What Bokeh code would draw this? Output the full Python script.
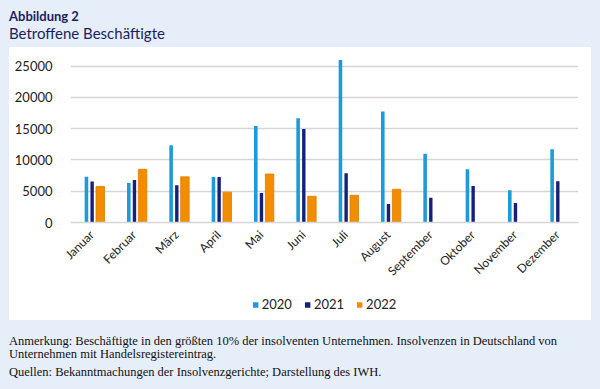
from math import pi
from bokeh.plotting import figure
from bokeh.layouts import column, row
from bokeh.models import (ColumnDataSource, FixedTicker, Legend, LegendItem, Div, Spacer,
                          GlobalInlineStyleSheet, FactorRange, Range1d)
from bokeh.transform import dodge
from bokeh.embed import file_html
from bokeh.resources import INLINE

months = ["Januar", "Februar", "März", "April", "Mai", "Juni", "Juli",
          "August", "September", "Oktober", "November", "Dezember"]
y2020 = [7300, 6300, 12350, 7250, 15400, 16650, 25950, 17750, 11000, 8500, 5150, 11700]
y2021 = [6550, 6800, 5950, 7250, 4700, 14950, 7850, 2950, 3950, 5850, 3100, 6600]
y2022 = [5750, 8500, 7300, 4850, 7750, 4200, 4350, 5300, 0, 0, 0, 0]
y_ticks = [0, 5000, 10000, 15000, 20000, 25000]
series = ["2020", "2021", "2022"]

title_1 = "Abbildung 2"
title_2 = "Betroffene Beschäftigte"
note_1 = ("Anmerkung: Beschäftigte in den größten 10% der insolventen Unternehmen. "
          "Insolvenzen in Deutschland von<br>Unternehmen mit Handelsregistereintrag.")
note_2 = "Quellen: Bekanntmachungen der Insolvenzgerichte; Darstellung des IWH."

BG = "#e6eefa"
NAVY = "#1b1f5c"
C2020 = "#1f9ad8"
C2021 = "#15207a"
C2022 = "#f28c00"
COLORS = [C2020, C2021, C2022]
AXFONT = "Lato"

src = ColumnDataSource(dict(month=months, y2020=y2020, y2021=y2021, y2022=y2022))

p = figure(width=582, height=241, x_range=FactorRange(*months),
           y_range=Range1d(0, 26200), output_backend="svg", toolbar_location=None,
           min_border_left=61, min_border_right=13, min_border_top=11, min_border_bottom=66,
           border_fill_color="white", background_fill_color="white",
           outline_line_color=None, margin=0)

p.vbar(x=dodge("month", -0.123, range=p.x_range), top="y2020", width=0.085,
       source=src, fill_color=C2020, line_color=None)
p.vbar(x=dodge("month", 0.011, range=p.x_range), top="y2021", width=0.08,
       source=src, fill_color=C2021, line_color=None)
p.vbar(x=dodge("month", 0.203, range=p.x_range), top="y2022", width=0.2,
       source=src, fill_color=C2022, line_color="#e07d00", line_width=0.8)

p.xgrid.grid_line_color = None
p.ygrid.grid_line_color = "#d6d6d6"
p.ygrid.grid_line_width = 1.5
p.ygrid.ticker = FixedTicker(ticks=y_ticks)

p.yaxis.ticker = FixedTicker(ticks=y_ticks)
p.yaxis.axis_line_color = None
p.yaxis.major_tick_line_color = None
p.yaxis.minor_tick_line_color = None
p.yaxis.major_label_standoff = 12
p.yaxis.major_label_text_font = AXFONT
p.yaxis.major_label_text_font_size = "13px"
p.yaxis.major_label_text_color = "#222222"
p.yaxis.major_label_overrides = {t: str(t) for t in y_ticks}

p.xaxis.axis_line_color = "#d6d6d6"
p.xaxis.axis_line_width = 1.5
p.xaxis.major_tick_line_color = None
p.xaxis.minor_tick_line_color = None
p.xaxis.major_label_orientation = pi / 4
p.xaxis.major_label_standoff = 4
p.xaxis.major_label_text_font = AXFONT
p.xaxis.major_label_text_font_size = "12px"
p.xaxis.major_label_text_color = "#222222"

# legend strip (its own small figure so that the legend is not clipped);
# the swatch renderers hold one point placed outside the visible range
lg = figure(width=582, height=32, output_backend="svg", toolbar_location=None,
            x_axis_type=None, y_axis_type=None, min_border=0, margin=0,
            border_fill_color="white", background_fill_color="white",
            outline_line_color=None, x_range=Range1d(0, 1), y_range=Range1d(0, 1))
items = []
for name, c in zip(series, COLORS):
    rr = lg.vbar(x=[-5], top=[-5], bottom=[-6], width=0.1, fill_color=c, line_color=None)
    items.append(LegendItem(label=name, renderers=[rr]))
lg.xgrid.visible = False
lg.ygrid.visible = False
legend = Legend(items=items, orientation="horizontal", location="center",
                border_line_color=None, background_fill_alpha=0,
                glyph_width=7, glyph_height=7, label_standoff=3, spacing=12,
                label_text_font=AXFONT, label_text_font_size="13px",
                label_text_color="#222222", margin=0, padding=2)
lg.add_layout(legend)

head = Div(width=600, height=47, margin=0,
           text=('<div style="font-family:Lato;color:%s;padding:9px 0 0 9px;">'
                 '<div style="font-weight:bold;font-size:13px;line-height:15px;">%s</div>'
                 '<div style="font-size:15px;line-height:18px;">%s</div></div>')
                % (NAVY, title_1, title_2))
foot = Div(width=600, height=69, margin=0,
           text=('<div style="font-family:\'Liberation Serif\';font-size:12.5px;color:#111;'
                 'padding:15px 0 0 9px;"><div style="line-height:13px;">%s</div>'
                 '<div style="line-height:13px;margin-top:5px;">%s</div></div>')
                % (note_1, note_2))

chart = column(p, lg, margin=0, spacing=0, styles={"background": "white"})
layout = column(head, row(Spacer(width=9, height=273, margin=0), chart, margin=0, spacing=0),
                foot, margin=0, spacing=0,
                stylesheets=[GlobalInlineStyleSheet(
                    css="html,body{margin:0;padding:0;overflow:hidden;background:%s;}" % BG)])

open("out.html", "w").write(file_html(layout, INLINE))
